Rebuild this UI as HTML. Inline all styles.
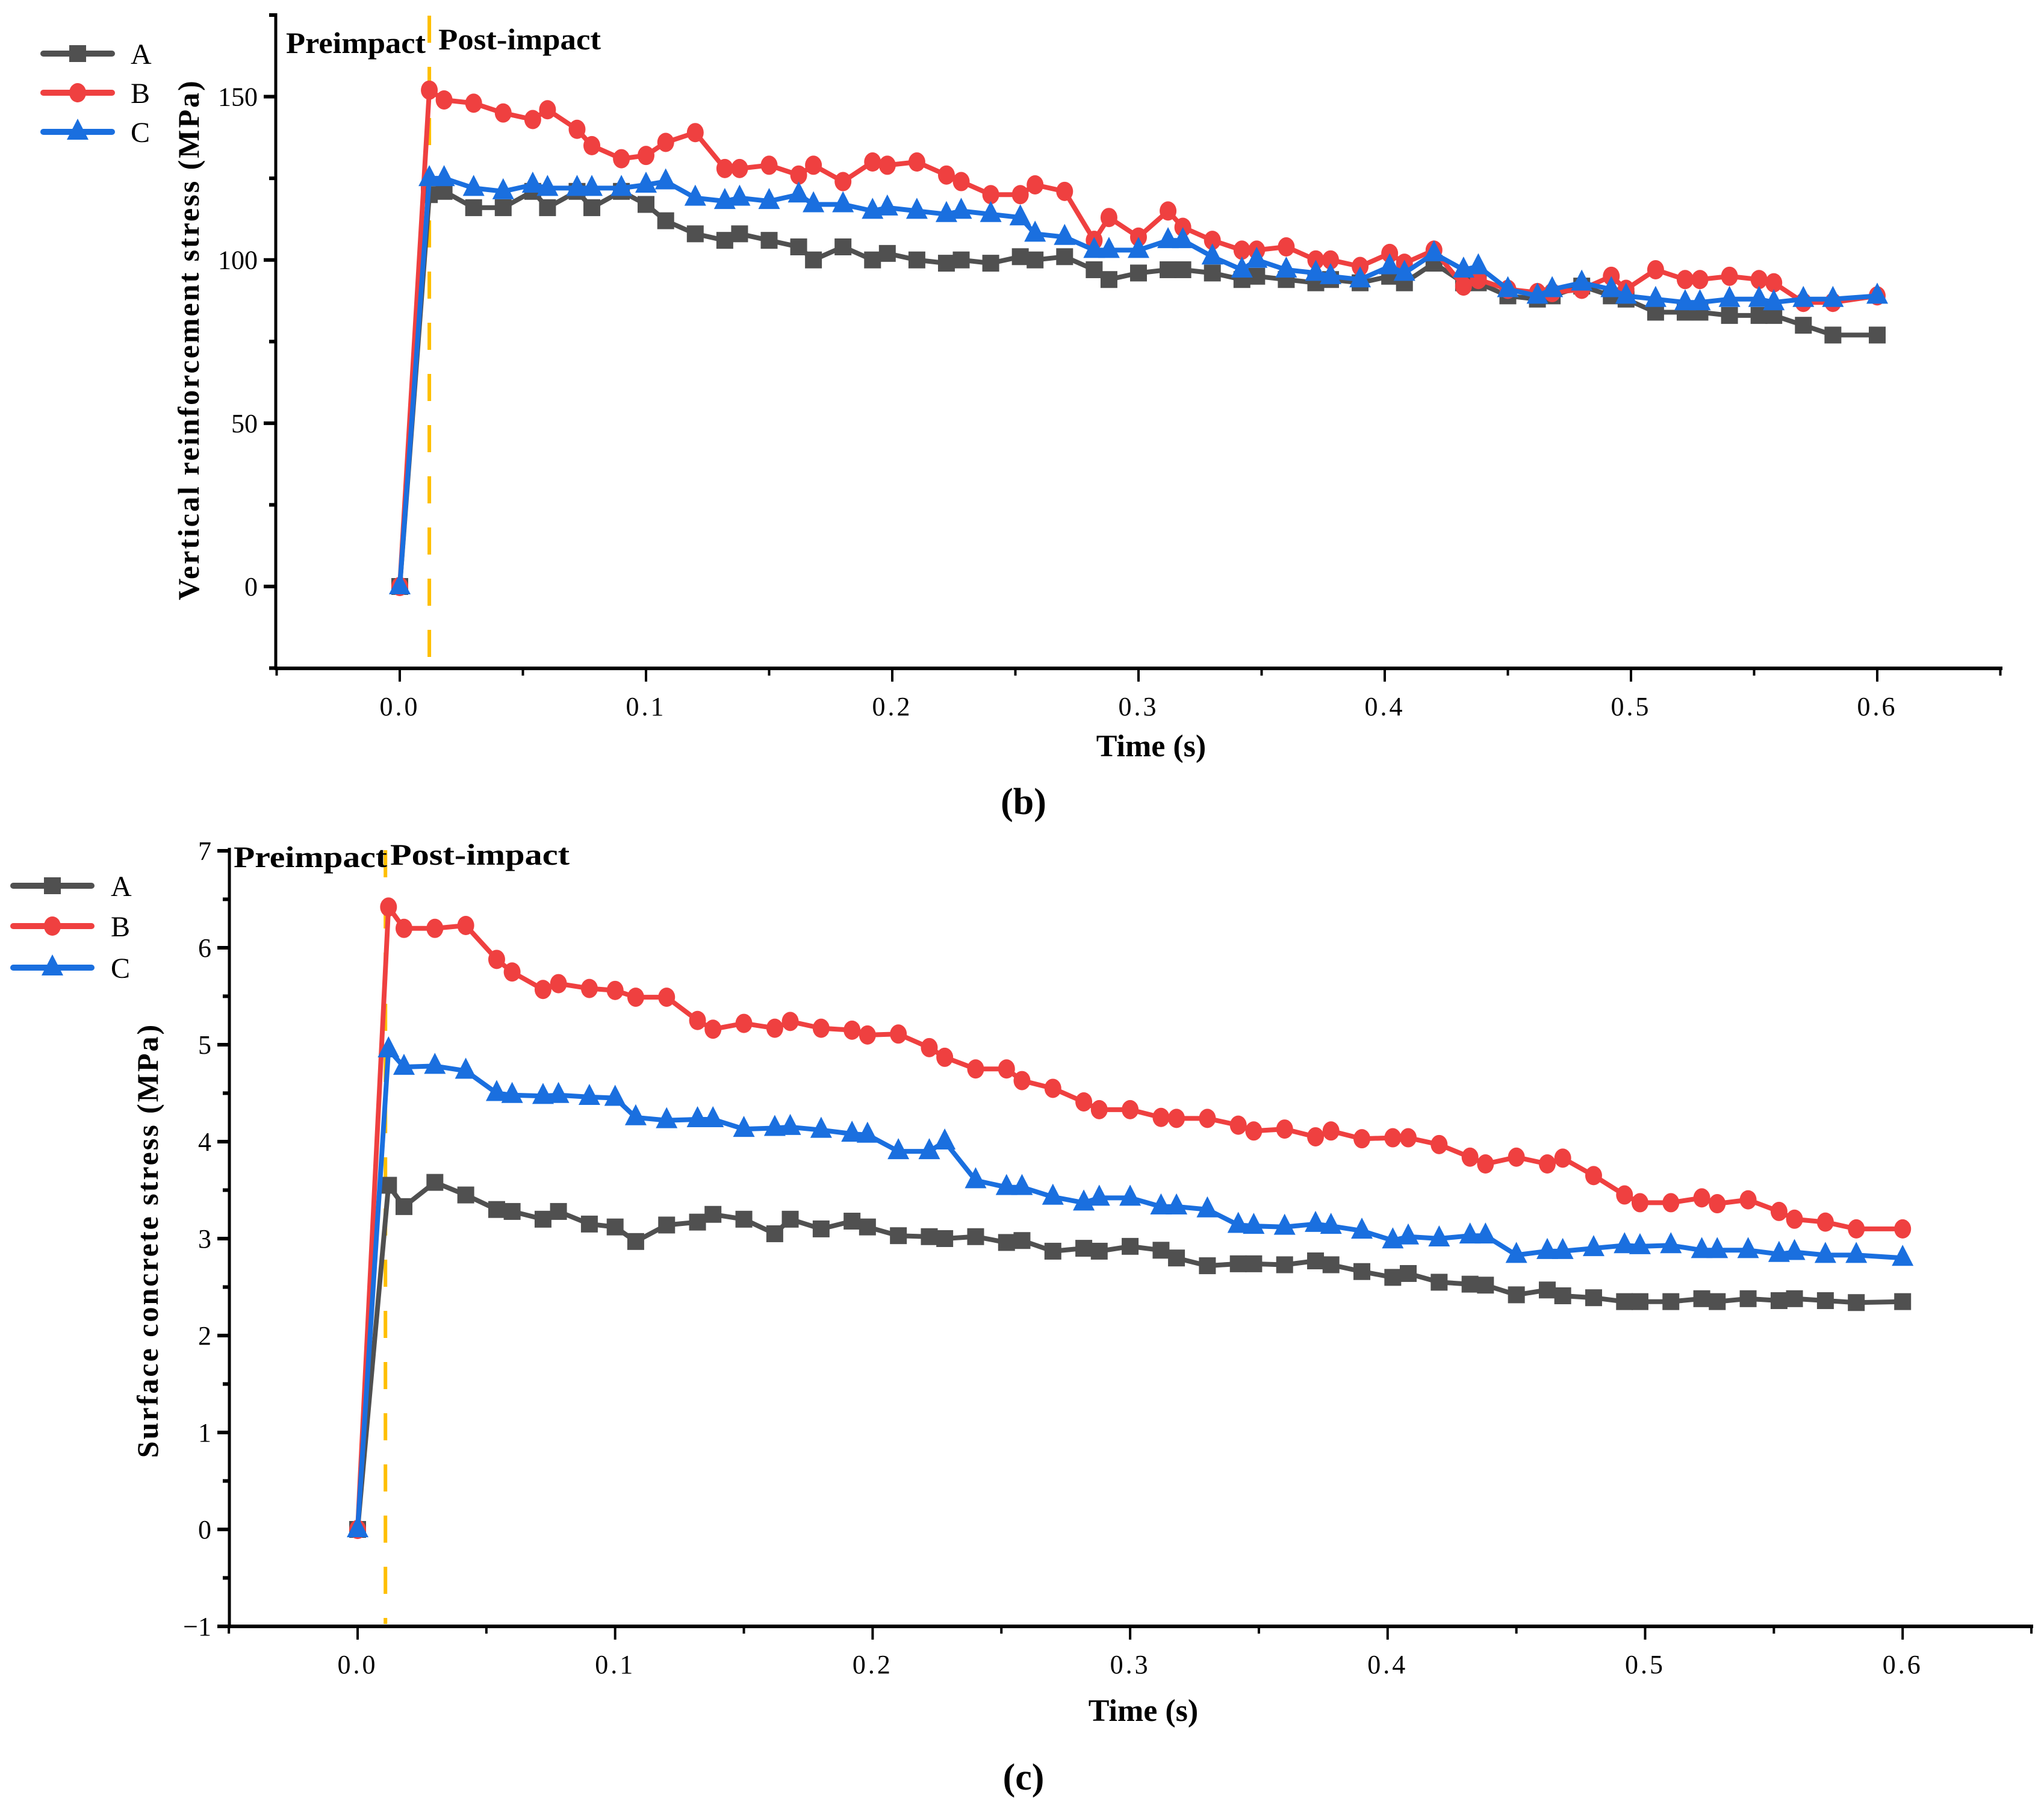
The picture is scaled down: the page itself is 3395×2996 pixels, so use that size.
<!DOCTYPE html>
<html><head><meta charset="utf-8"><style>
html,body{margin:0;padding:0;background:#fff;}
svg{display:block;}
text{font-family:"Liberation Serif",serif;}
</style></head><body>
<svg id="fig" width="3395" height="2996" viewBox="0 0 3395 2996" xmlns="http://www.w3.org/2000/svg">
<g id="chartB"></g>
<g id="chartC"></g>
</svg>
<script>
// shared time points (s)
const timesS = [0,0.012,0.018,0.03,0.042,0.054,0.06,0.072,0.078,0.09,0.1,0.108,0.12,0.132,0.138,0.15,0.162,0.168,0.18,0.192,0.198,0.21,0.222,0.228,0.24,0.252,0.258,0.27,0.282,0.288,0.3,0.312,0.318,0.33,0.342,0.348,0.36,0.372,0.378,0.39,0.402,0.408,0.42,0.432,0.438,0.45,0.462,0.468,0.48,0.492,0.498,0.51,0.522,0.528,0.54,0.552,0.558,0.57,0.582,0.6];
// chart (b) vertical reinforcement stress (MPa)
const bA = [0,120,121,116,116,121,116,121,116,121,117,112,108,106,108,106,104,100,104,100,102,100,99,100,99,101,100,101,97,94,96,97,97,96,94,95,94,93,94,93,95,93,99,93,93,89,88,89,92,89,88,84,84,84,83,83,83,80,77,77];
const bB = [0,152,149,148,145,143,146,140,135,131,132,136,139,128,128,129,126,129,124,130,129,130,126,124,120,120,123,121,106,113,107,115,110,106,103,103,104,100,100,98,102,99,103,92,94,91,90,90,91,95,91,97,94,94,95,94,93,87,87,89];
const bC = [0,125,125,122,121,123,122,122,122,122,123,124,119,118,119,118,120,117,117,115,116,115,114,115,114,113,108,107,103,103,103,106,106,101,97,100,97,96,95,94,98,96,102,97,98,91,89,91,93,91,89,88,87,87,88,88,87,88,88,89];
const bYTicks = [0,50,100,150];
// chart (c) surface concrete stress (MPa)
const cA = [0,3.55,3.33,3.58,3.45,3.3,3.28,3.2,3.28,3.15,3.12,2.97,3.14,3.17,3.25,3.2,3.05,3.2,3.1,3.18,3.12,3.03,3.02,3.0,3.02,2.96,2.98,2.87,2.9,2.87,2.92,2.88,2.8,2.72,2.74,2.74,2.73,2.77,2.73,2.66,2.6,2.64,2.55,2.53,2.52,2.42,2.47,2.41,2.39,2.35,2.35,2.35,2.38,2.35,2.38,2.36,2.38,2.36,2.34,2.35];
const cB = [0,6.42,6.2,6.2,6.23,5.88,5.75,5.57,5.63,5.58,5.56,5.49,5.49,5.25,5.16,5.22,5.17,5.24,5.17,5.15,5.1,5.11,4.97,4.87,4.75,4.75,4.63,4.55,4.41,4.33,4.33,4.25,4.24,4.24,4.17,4.11,4.13,4.05,4.11,4.03,4.04,4.04,3.97,3.84,3.77,3.84,3.77,3.83,3.65,3.45,3.37,3.37,3.42,3.36,3.4,3.28,3.2,3.17,3.1,3.1];
const cC = [0,4.95,4.77,4.78,4.73,4.5,4.48,4.47,4.48,4.46,4.45,4.25,4.22,4.23,4.23,4.13,4.14,4.15,4.12,4.08,4.07,3.9,3.9,4.0,3.6,3.53,3.53,3.43,3.37,3.42,3.42,3.33,3.33,3.3,3.14,3.13,3.12,3.15,3.13,3.08,2.98,3.02,3.0,3.03,3.03,2.83,2.87,2.87,2.9,2.93,2.92,2.93,2.88,2.88,2.88,2.84,2.86,2.83,2.83,2.8];
const cYTicks = [-1,0,1,2,3,4,5,6,7];
const xTicks = [0,0.1,0.2,0.3,0.4,0.5,0.6];
const xTickLabels = ["0.0","0.1","0.2","0.3","0.4","0.5","0.6"];
const seriesNames = ["A","B","C"];
const impactTimeB = 0.012;
const impactTimeC = 0.0108;

const NS = "http://www.w3.org/2000/svg";
const COLORS = ["#505050","#ef4040","#1a6fdf"];
function mk(parent, tag, attrs, txt){
  const e = document.createElementNS(NS, tag);
  for (const k in attrs) e.setAttribute(k, attrs[k]);
  if (txt !== undefined) e.textContent = txt;
  parent.appendChild(e);
  return e;
}
function marker(g, kind, x, y, color){
  let e;
  if (kind === 0) e = mk(g,'rect',{x:x-14,y:y-14,width:28,height:28,fill:color});
  else if (kind === 1) e = mk(g,'ellipse',{cx:x,cy:y,rx:14,ry:16,fill:color});
  else e = mk(g,'polygon',{points:`${x},${y-22} ${x-18},${y+13} ${x+18},${y+13}`,fill:color});
  return e;
}
function drawChart(cfg){
  const g = document.getElementById(cfg.id);
  const X = t => cfg.x0 + (t - 0) * cfg.xs;
  const Y = v => cfg.y0 - v * cfg.ys;
  const L = cfg.left, R = cfg.right, T = cfg.top, B = cfg.bottom;
  // axes
  const ya = mk(g,'line',{x1:L,y1:T,x2:L,y2:B+2,stroke:'#000','stroke-width':5});
   
  const xa = mk(g,'line',{x1:L-2,y1:B,x2:R,y2:B,stroke:'#000','stroke-width':6});
   
  // x ticks (major + minor)
  for (let i = -1; i <= 13; i++){
    const t = i*0.05, x = X(t);
    if (x < L-3 || x > R+3) continue;
    const major = (i % 2 === 0);
    const tk = mk(g,'line',{x1:x,y1:B,x2:x,y2:B+(major?22:12),stroke:'#000','stroke-width':4});
     
  }
  xTicks.forEach((t,i)=>{
    const tl = mk(g,'text',{x:X(t),y:B+78,'font-size':44,'text-anchor':'middle','letter-spacing':4},xTickLabels[i]);
     
  });
  // y ticks
  cfg.yTicks.forEach(v=>{
    const y = Y(v);
    const tk = mk(g,'line',{x1:L-20,y1:y,x2:L,y2:y,stroke:'#000','stroke-width':6});
     
    const tl = mk(g,'text',{x:L-30,y:y+15,'font-size':44,'text-anchor':'end'},String(v).replace('-','\u2212'));
     
  });
  cfg.yMinor.forEach(v=>{
    const y = Y(v);
    const tk = mk(g,'line',{x1:L-11,y1:y,x2:L,y2:y,stroke:'#000','stroke-width':6});
     
  });
  // impact line
  const dl = mk(g,'line',{x1:X(cfg.impact),y1:T+4,x2:X(cfg.impact),y2:B-4,stroke:'#ffbf00','stroke-width':6,'stroke-dasharray':'45 40'});
   
  // labels
  const pre = mk(g,'text',{x:cfg.pre[0],y:cfg.pre[2],'font-size':50,'font-weight':'bold',textLength:cfg.pre[1]-cfg.pre[0],lengthAdjust:'spacingAndGlyphs'},'Preimpact');
   
  const post = mk(g,'text',{x:cfg.post[0],y:cfg.post[2],'font-size':50,'font-weight':'bold',textLength:cfg.post[1]-cfg.post[0],lengthAdjust:'spacingAndGlyphs'},'Post-impact');
   
  // series
  const data = cfg.series;
  data.forEach((vals,si)=>{
    const sg = mk(g,'g',{});
     
    const pts = vals.map((v,i)=>X(timesS[i]).toFixed(1)+','+Y(v).toFixed(1)).join(' ');
    const pl = mk(sg,'polyline',{points:pts,fill:'none',stroke:COLORS[si],'stroke-width':8,'stroke-linejoin':'round'});
     
    vals.forEach((v,i)=>{
      const m = marker(sg, si, X(timesS[i]), Y(v), COLORS[si]);
       
    });
  });
  // legend
  const lg = mk(g,'g',{});
   
  seriesNames.forEach((n,si)=>{
    const y = cfg.legY[si];
    const ln = mk(lg,'line',{x1:cfg.legX[0],y1:y,x2:cfg.legX[1],y2:y,stroke:COLORS[si],'stroke-width':10,'stroke-linecap':'round'});
     
    const m = marker(lg, si, (cfg.legX[0]+cfg.legX[1])/2, y, COLORS[si]);
     
    const lt = mk(lg,'text',{x:cfg.legX[2],y:y+17,'font-size':48},n);
     
  });
  // titles
  const xt = mk(g,'text',{x:(L+R)/2+20,y:cfg.xTitleY,'font-size':52,'font-weight':'bold','text-anchor':'middle'},'Time (s)');
   
  const yt = mk(g,'text',{x:0,y:0,'font-size':50,'font-weight':'bold','text-anchor':'middle','letter-spacing':3,transform:`translate(${cfg.yTitle[0]},${cfg.yTitle[1]}) rotate(-90)`},cfg.yTitleText);
   
  const cap = mk(g,'text',{x:1700,y:cfg.capY,'font-size':62,'font-weight':'bold','text-anchor':'middle'},cfg.cap);
   
}
drawChart({id:'chartB',left:458,right:3326,top:22,bottom:1110,x0:664,xs:4090,y0:974,ys:5.423,
  yTicks:bYTicks,yMinor:[-25,25,75,125,175],impact:impactTimeB,
  pre:[475,707,88],post:[728,998,82],series:[bA,bB,bC],
  legY:[89,154,219],legX:[72,186,217],xTitleY:1256,yTitle:[330,564],
  yTitleText:'Vertical reinforcement stress (MPa)',capY:1352,cap:'(b)'});
drawChart({id:'chartC',left:381,right:3377,top:1408,bottom:2701,x0:594,xs:4277,y0:2540,ys:161,
  yTicks:cYTicks,yMinor:[-0.5,0.5,1.5,2.5,3.5,4.5,5.5,6.5],impact:impactTimeC,
  pre:[388,643,1440],post:[648,946,1436],series:[cA,cB,cC],
  legY:[1471,1538,1607],legX:[22,152,184],xTitleY:2858,yTitle:[262,2060],
  yTitleText:'Surface concrete stress (MPa)',capY:2972,cap:'(c)'});
</script>
</body></html>
